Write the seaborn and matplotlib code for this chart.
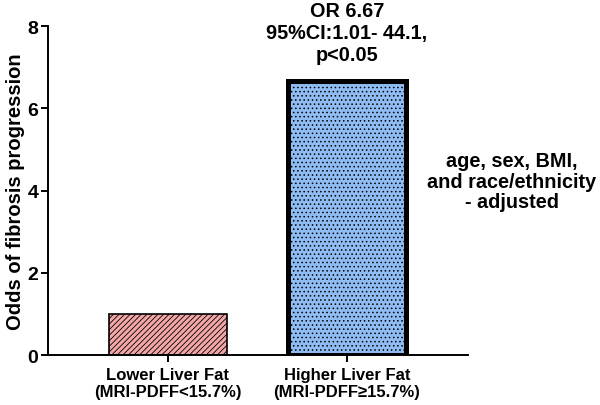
import pandas as pd
import numpy as np
import matplotlib
matplotlib.use("Agg")
import matplotlib.pyplot as plt
import seaborn as sns

# Data
groups = ["Lower Liver Fat\n(MRI-PDFF<15.7%)", "Higher Liver Fat\n(MRI-PDFF\u226515.7%)"]
odds = [1.0, 6.67]
bar_colors = ["#F4A7A8", "#90BCF4"]
hatches = ["//////", "...."]
edge_widths = [1.2, 3.6]
yticks = [0, 2, 4, 6, 8]

df = pd.DataFrame({"group": groups, "odds": odds})

sns.set_style("ticks")
plt.rcParams["font.family"] = ["Liberation Sans", "DejaVu Sans"]
plt.rcParams["font.weight"] = "bold"
plt.rcParams["text.color"] = "black"
plt.rcParams["axes.labelcolor"] = "black"
plt.rcParams["xtick.color"] = "black"
plt.rcParams["ytick.color"] = "black"
plt.rcParams["axes.edgecolor"] = "black"
plt.rcParams["hatch.color"] = "black"
plt.rcParams["hatch.linewidth"] = 0.6

fig = plt.figure(figsize=(6, 4.06), dpi=100)
ax = fig.add_axes([0.08, 0.123, 0.70, 0.81])

sns.barplot(data=df, x="group", y="odds", hue="group", palette=bar_colors,
            width=0.66, legend=False, ax=ax, saturation=1)

for patch, h, lw in zip(ax.patches, hatches, edge_widths):
    patch.set_hatch(h)
    patch.set_edgecolor("black")
    patch.set_linewidth(lw)

ax.set_ylim(0, 8)
ax.set_yticks(yticks)
ax.set_xlim(-0.67, 1.676)
ax.set_xlabel("")
ax.set_ylabel("Odds of fibrosis progression", fontsize=14.5, fontweight="bold", labelpad=2)
ax.tick_params(axis="both", width=1.4, length=5, direction="out")
ax.tick_params(axis="y", labelsize=14, pad=2)
ax.tick_params(axis="x", labelsize=12)
for lab in ax.get_xticklabels() + ax.get_yticklabels():
    lab.set_fontweight("bold")
for s in ["left", "bottom"]:
    ax.spines[s].set_linewidth(1.4)
sns.despine(ax=ax)

ax.text(1, 7.85, "OR 6.67\n95%CI:1.01- 44.1,\np<0.05", ha="center", va="center",
        fontsize=14.3, fontweight="bold", linespacing=1.2)
ax.text(1.92, 4.23, "age, sex, BMI,\nand race/ethnicity\n- adjusted", ha="center",
        va="center", fontsize=14.3, fontweight="bold", linespacing=1.1, clip_on=False)

fig.savefig("out.png", dpi=100)
